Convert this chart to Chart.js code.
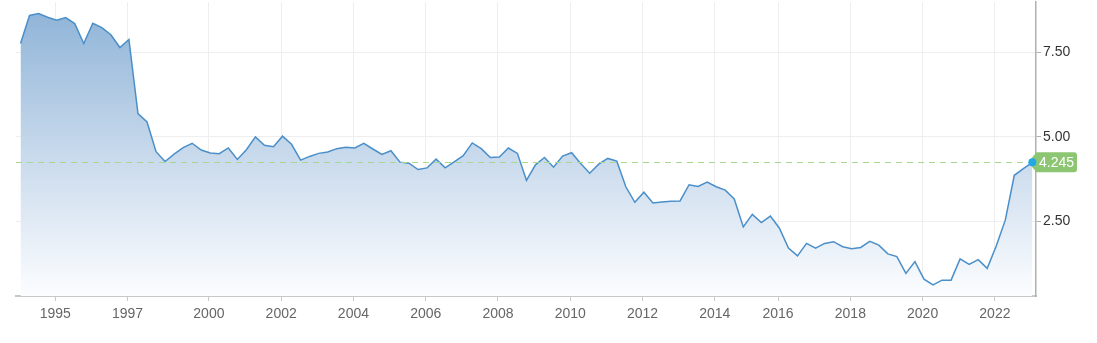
<!DOCTYPE html>
<html>
<head>
<meta charset="utf-8">
<script src="https://cdn.jsdelivr.net/npm/chart.js@4.4.1/dist/chart.umd.min.js"></script>
<style>
  html, body { margin: 0; padding: 0; background: #fff; }
  #wrap { width: 1097px; height: 343px; position: relative; }
</style>
</head>
<body>
<div id="wrap"><canvas id="chart"></canvas></div>
<script>
// quarterly readings, oldest first
const values = [
    7.77, 8.60, 8.66, 8.55, 8.46, 8.54, 8.36, 7.77, 8.37, 8.24,
    8.03, 7.65, 7.89, 5.69, 5.44, 4.56, 4.27, 4.49, 4.68, 4.81,
    4.61, 4.52, 4.50, 4.67, 4.33, 4.62, 5.00, 4.75, 4.71, 5.02,
    4.78, 4.31, 4.42, 4.51, 4.55, 4.65, 4.69, 4.67, 4.81, 4.64,
    4.48, 4.59, 4.25, 4.22, 4.03, 4.08, 4.34, 4.08, 4.26, 4.44,
    4.82, 4.65, 4.39, 4.40, 4.67, 4.51, 3.71, 4.17, 4.39, 4.10,
    4.43, 4.53, 4.21, 3.92, 4.19, 4.36, 4.28, 3.52, 3.06, 3.36,
    3.04, 3.07, 3.09, 3.10, 3.58, 3.53, 3.66, 3.52, 3.42, 3.16,
    2.33, 2.70, 2.46, 2.65, 2.29, 1.70, 1.47, 1.84, 1.70, 1.84,
    1.89, 1.74, 1.68, 1.72, 1.90, 1.79, 1.53, 1.45, 0.95, 1.30,
    0.78, 0.61, 0.75, 0.75, 1.38, 1.22, 1.36, 1.10, 1.76, 2.53,
    3.86, 4.06, 4.245
];

const tickYears = ["1995", "1997", "2000", "2002", "2004", "2006", "2008",
    "2010", "2012", "2014", "2016", "2018", "2020", "2022"];
const tickIndex = [4, 12, 21, 29, 37, 45, 53, 61, 69, 77, 84, 92, 100, 108];
const yTicks = [2.5, 5, 7.5];

const lastValue = values[values.length - 1];

const points = values.map((v, i) => ({ x: i, y: v }));

const lastValuePlugin = {
    id: "lastValue",
    afterDatasetsDraw(chart) {
        const ctx = chart.ctx;
        const area = chart.chartArea;
        const y = chart.scales.y.getPixelForValue(lastValue);
        ctx.save();
        ctx.strokeStyle = "#a6d98f";
        ctx.lineWidth = 1;
        ctx.setLineDash([6, 5]);
        ctx.beginPath();
        ctx.moveTo(area.left, Math.round(y) + 0.5);
        ctx.lineTo(area.right, Math.round(y) + 0.5);
        ctx.stroke();
        ctx.restore();
    },
    afterDraw(chart) {
        const ctx = chart.ctx;
        const y = chart.scales.y.getPixelForValue(lastValue);
        const x = chart.scales.x.getPixelForValue(values.length - 1);
        const left = x - 4, right = 1077, h = 20, r = 3;
        ctx.save();
        ctx.fillStyle = "#8dc672";
        ctx.beginPath();
        ctx.moveTo(left, y);
        ctx.lineTo(left + 8, y - h / 2);
        ctx.lineTo(right - r, y - h / 2);
        ctx.quadraticCurveTo(right, y - h / 2, right, y - h / 2 + r);
        ctx.lineTo(right, y + h / 2 - r);
        ctx.quadraticCurveTo(right, y + h / 2, right - r, y + h / 2);
        ctx.lineTo(left + 8, y + h / 2);
        ctx.closePath();
        ctx.fill();

        ctx.fillStyle = "#ffffff";
        ctx.font = "14px 'Liberation Sans', Arial, sans-serif";
        ctx.textBaseline = "middle";
        ctx.textAlign = "left";
        ctx.fillText(lastValue.toFixed(3), 1039, y + 1);

        ctx.fillStyle = "#22a8e6";
        ctx.beginPath();
        ctx.arc(x, y, 4, 0, Math.PI * 2);
        ctx.fill();
        ctx.restore();
    }
};

new Chart(document.getElementById("chart"), {
    type: "line",
    data: {
        datasets: [{
            data: points,
            borderColor: "#4a8fc9",
            borderWidth: 1.5,
            pointRadius: 0,
            tension: 0,
            fill: "start",
            backgroundColor: (context) => {
                const area = context.chart.chartArea;
                if (!area) return "rgba(150,185,220,0.6)";
                const g = context.chart.ctx.createLinearGradient(0, area.top, 0, area.bottom);
                g.addColorStop(0, "rgb(140,178,215)");
                g.addColorStop(0.5, "rgb(198,216,235)");
                g.addColorStop(1, "rgb(252,253,255)");
                return g;
            }
        }]
    },
    options: {
        responsive: true,
        maintainAspectRatio: false,
        animation: false,
        layout: { padding: { left: 16, top: 2, right: 0, bottom: 0 } },
        plugins: {
            legend: { display: false },
            tooltip: { enabled: false }
        },
        scales: {
            x: {
                type: "linear",
                min: -0.5,
                max: values.length - 1 + 0.4,
                afterBuildTicks: (axis) => {
                    axis.ticks = tickIndex.map(i => ({ value: i - 0.15 }));
                },
                afterFit: (axis) => {
                    axis.height = 47;
                    axis.paddingLeft = 0;
                    axis.paddingRight = 0;
                },
                ticks: {
                    autoSkip: false,
                    maxRotation: 0,
                    padding: 5,
                    color: "#666",
                    font: { family: "'Liberation Sans', Arial, sans-serif", size: 14 },
                    callback: (v, i) => tickYears[i]
                },
                grid: {
                    color: "#eeeeee",
                    tickColor: "#c8c8c8",
                    tickLength: 5
                },
                border: { color: "#c8c8c8", width: 2 }
            },
            y: {
                position: "right",
                min: 0.28,
                max: 9.0,
                afterBuildTicks: (axis) => {
                    axis.ticks = yTicks.map(v => ({ value: v }));
                },
                afterFit: (axis) => {
                    axis.width = 61;
                    axis.paddingTop = 0;
                    axis.paddingBottom = 0;
                },
                ticks: {
                    padding: 2,
                    color: "#333",
                    font: { family: "'Liberation Sans', Arial, sans-serif", size: 14 },
                    callback: (v) => v.toFixed(2)
                },
                grid: {
                    color: "#eeeeee",
                    tickColor: "#b0b0b0",
                    tickLength: 5
                },
                border: { color: "#b0b0b0", width: 1.5 }
            }
        }
    },
    plugins: [lastValuePlugin]
});
</script>
</body>
</html>
